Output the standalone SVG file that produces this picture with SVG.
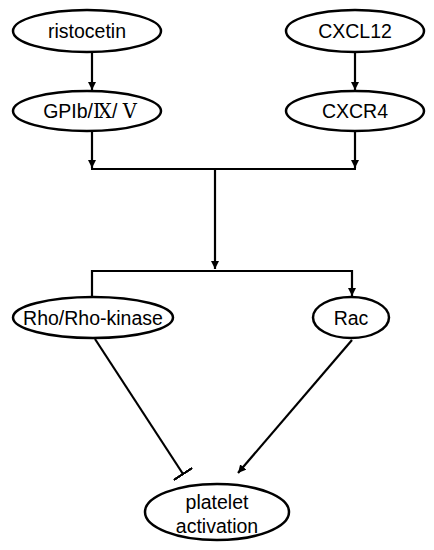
<svg xmlns="http://www.w3.org/2000/svg" width="434" height="550" viewBox="0 0 434 550">
<defs>
<marker id="arr" viewBox="0 0 10 10" refX="10" refY="5" markerWidth="8" markerHeight="8" markerUnits="userSpaceOnUse" orient="auto">
<path d="M0,0 L10,5 L0,10 z" fill="#000"/>
</marker>
<marker id="bar" viewBox="0 0 4 24" refX="2" refY="12" markerWidth="2.5" markerHeight="22" markerUnits="userSpaceOnUse" orient="auto" preserveAspectRatio="none">
<rect x="0" y="0" width="4" height="24" fill="#000"/>
</marker>
</defs>
<style>
.n ellipse{fill:#fff;stroke:#000;stroke-width:2.5}
.n text{font-family:"Liberation Sans",Arial,sans-serif;font-size:19.5px;text-anchor:middle;fill:#000}
.e line,.e polyline{stroke:#000;stroke-width:2.2;fill:none}
</style>
<g class="e" id="connectors">
<line x1="92" y1="52" x2="92" y2="90" marker-end="url(#arr)"/>
<line x1="355" y1="52" x2="355" y2="90" marker-end="url(#arr)"/>
<line x1="92" y1="131" x2="92" y2="168" marker-end="url(#arr)"/>
<line x1="355" y1="131" x2="355" y2="168" marker-end="url(#arr)"/>
<line x1="91" y1="169" x2="356" y2="169"/>
<line x1="215" y1="169" x2="215" y2="269" marker-end="url(#arr)"/>
<polyline points="92,296 92,271 352,271 352,296" marker-end="url(#arr)"/>
<line x1="95" y1="339" x2="183" y2="474" marker-end="url(#bar)"/>
<line x1="352" y1="340" x2="238" y2="473" marker-end="url(#arr)"/>
</g>
<g class="n" id="ristocetin"><ellipse cx="87" cy="31" rx="74" ry="21"/><text x="87" y="38">ristocetin</text></g>
<g class="n" id="cxcl12"><ellipse cx="355" cy="31" rx="69" ry="21"/><text x="355" y="38">CXCL12</text></g>
<g class="n" id="gpib"><ellipse cx="87" cy="111" rx="74" ry="20"/><text x="90" y="118">GPIb/<tspan font-family="'DejaVu Serif','Noto Sans CJK SC',serif">Ⅸ</tspan>/ <tspan font-family="'DejaVu Serif','Noto Sans CJK SC',serif">Ⅴ</tspan></text></g>
<g class="n" id="cxcr4"><ellipse cx="355" cy="111" rx="69" ry="20"/><text x="355" y="118">CXCR4</text></g>
<g class="n" id="rho"><ellipse cx="93" cy="317.5" rx="80" ry="20.5"/><text x="93" y="325">Rho/Rho-kinase</text></g>
<g class="n" id="rac"><ellipse cx="351" cy="317.5" rx="38" ry="20.5"/><text x="351" y="325">Rac</text></g>
<g class="n" id="platelet"><ellipse cx="217" cy="512" rx="72" ry="28"/><text x="217" y="509">platelet</text><text x="217" y="533">activation</text></g>
</svg>
